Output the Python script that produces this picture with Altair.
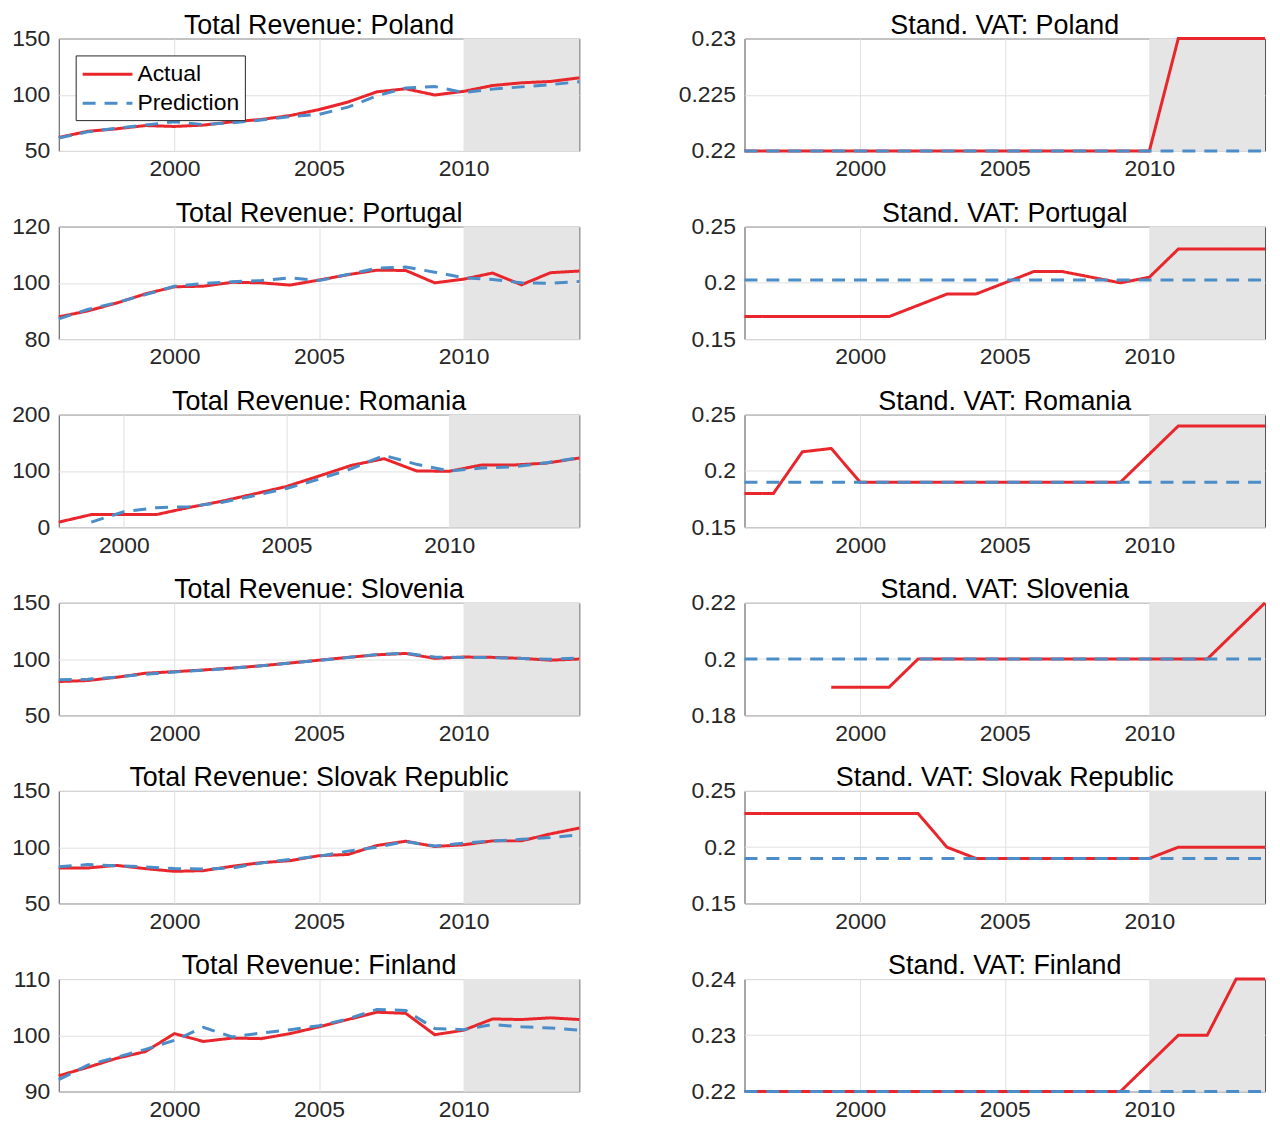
import altair as alt
import pandas as pd

FONT = "Liberation Sans"
RED = "#E8262B"
BLUE = "#4A8DC8"
SHADE_COLOR = "#E5E5E5"

PANEL_W = 523
PANEL_H = 113

YEARS = list(range(1996, 2015))
ROM_REV_YEARS_ACT = list(range(1998, 2015))
ROM_REV_YEARS_PRED = list(range(1999, 2015))
SVN_VAT_YEARS_ACT = list(range(1999, 2015))

SHADE_START = 2010
SHADE_END = 2014
X_TICKS = [2000, 2005, 2010]
SERIES = ["Actual", "Prediction"]

# ---- Total revenue ----
POL_REV_ACT = [62.0, 67.5, 69.7, 72.6, 71.8, 73.0, 75.9, 78.0, 81.5, 86.8, 93.5, 102.6, 105.3, 99.8, 103.0, 108.2, 110.6, 111.8, 115.0]
POL_REV_PRED = [61.5, 67.0, 70.2, 73.0, 76.0, 73.5, 75.0, 77.5, 80.5, 82.5, 89.0, 99.0, 106.0, 107.4, 102.0, 105.0, 107.0, 109.0, 111.5]

POR_REV_ACT = [87.9, 90.0, 92.8, 96.1, 98.6, 98.8, 100.2, 100.0, 99.2, 101.0, 102.9, 104.5, 104.4, 100.0, 101.3, 103.5, 99.3, 103.6, 104.2]
POR_REV_PRED = [87.2, 90.5, 93.0, 95.8, 98.8, 99.8, 100.4, 100.8, 101.8, 100.8, 103.0, 105.2, 105.6, 103.8, 101.8, 101.2, 100.0, 99.8, 100.5]

ROM_REV_ACT = [9.0, 22.4, 22.4, 22.4, 35.0, 46.0, 59.0, 72.4, 91.0, 110.0, 121.8, 100.0, 99.4, 110.6, 110.6, 114.0, 123.0]
ROM_REV_PRED = [9.0, 27.5, 34.7, 36.5, 44.0, 56.0, 68.8, 85.3, 104.0, 127.6, 111.8, 100.0, 105.3, 107.6, 114.7, 123.5]

SVN_REV_ACT = [80.0, 80.9, 83.8, 87.4, 88.8, 90.3, 92.0, 94.0, 96.5, 99.0, 101.5, 103.8, 105.0, 100.6, 101.8, 101.5, 100.6, 99.0, 100.0]
SVN_REV_PRED = [81.5, 82.0, 84.0, 86.5, 88.5, 90.0, 92.0, 94.0, 96.5, 98.8, 101.3, 104.0, 105.2, 101.8, 101.3, 101.3, 100.6, 99.8, 101.0]

SVK_REV_ACT = [81.5, 81.5, 83.8, 80.9, 78.5, 79.1, 83.0, 86.2, 88.0, 92.4, 93.5, 101.5, 105.3, 100.6, 102.1, 105.6, 105.6, 111.8, 117.0]
SVK_REV_PRED = [82.5, 84.5, 83.5, 82.5, 81.0, 80.5, 81.5, 86.0, 89.0, 92.0, 96.5, 100.0, 105.0, 101.0, 103.5, 105.5, 107.0, 108.5, 111.0]

FIN_REV_ACT = [92.8, 94.3, 95.9, 97.1, 100.3, 98.9, 99.5, 99.4, 100.3, 101.5, 102.8, 104.1, 103.9, 100.1, 100.9, 102.9, 102.8, 103.1, 102.8]
FIN_REV_PRED = [92.1, 94.7, 96.1, 97.5, 99.1, 101.4, 99.7, 100.4, 101.0, 101.7, 102.9, 104.6, 104.4, 101.2, 101.0, 101.9, 101.5, 101.3, 100.9]

# ---- Standard VAT ----
POL_VAT_ACT = [0.22, 0.22, 0.22, 0.22, 0.22, 0.22, 0.22, 0.22, 0.22, 0.22, 0.22, 0.22, 0.22, 0.22, 0.22, 0.23, 0.23, 0.23, 0.23]
POL_VAT_PRED = [0.22, 0.22, 0.22, 0.22, 0.22, 0.22, 0.22, 0.22, 0.22, 0.22, 0.22, 0.22, 0.22, 0.22, 0.22, 0.22, 0.22, 0.22, 0.22]

POR_VAT_ACT = [0.17, 0.17, 0.17, 0.17, 0.17, 0.17, 0.18, 0.19, 0.19, 0.20, 0.21, 0.21, 0.205, 0.20, 0.205, 0.23, 0.23, 0.23, 0.23]
POR_VAT_PRED = [0.2025, 0.2025, 0.2025, 0.2025, 0.2025, 0.2025, 0.2025, 0.2025, 0.2025, 0.2025, 0.2025, 0.2025, 0.2025, 0.2025, 0.2025, 0.2025, 0.2025, 0.2025, 0.2025]

ROM_VAT_ACT = [0.18, 0.18, 0.217, 0.22, 0.19, 0.19, 0.19, 0.19, 0.19, 0.19, 0.19, 0.19, 0.19, 0.19, 0.215, 0.24, 0.24, 0.24, 0.24]
ROM_VAT_PRED = [0.19, 0.19, 0.19, 0.19, 0.19, 0.19, 0.19, 0.19, 0.19, 0.19, 0.19, 0.19, 0.19, 0.19, 0.19, 0.19, 0.19, 0.19, 0.19]

SVN_VAT_ACT = [0.19, 0.19, 0.19, 0.20, 0.20, 0.20, 0.20, 0.20, 0.20, 0.20, 0.20, 0.20, 0.20, 0.20, 0.21, 0.22]
SVN_VAT_PRED = [0.20, 0.20, 0.20, 0.20, 0.20, 0.20, 0.20, 0.20, 0.20, 0.20, 0.20, 0.20, 0.20, 0.20, 0.20, 0.20, 0.20, 0.20, 0.20]

SVK_VAT_ACT = [0.23, 0.23, 0.23, 0.23, 0.23, 0.23, 0.23, 0.20, 0.19, 0.19, 0.19, 0.19, 0.19, 0.19, 0.19, 0.20, 0.20, 0.20, 0.20]
SVK_VAT_PRED = [0.19, 0.19, 0.19, 0.19, 0.19, 0.19, 0.19, 0.19, 0.19, 0.19, 0.19, 0.19, 0.19, 0.19, 0.19, 0.19, 0.19, 0.19, 0.19]

FIN_VAT_ACT = [0.22, 0.22, 0.22, 0.22, 0.22, 0.22, 0.22, 0.22, 0.22, 0.22, 0.22, 0.22, 0.22, 0.22, 0.225, 0.23, 0.23, 0.24, 0.24]
FIN_VAT_PRED = [0.22, 0.22, 0.22, 0.22, 0.22, 0.22, 0.22, 0.22, 0.22, 0.22, 0.22, 0.22, 0.22, 0.22, 0.22, 0.22, 0.22, 0.22, 0.22]


def panel(title, ya, va, yp, vp, xdom, ydom, yticks, legend=False):
    df = pd.DataFrame({
        "year": list(ya) + list(yp),
        "value": list(va) + list(vp),
        "series": [SERIES[0]] * len(ya) + [SERIES[1]] * len(yp),
    })
    shade_df = pd.DataFrame({"start": [SHADE_START], "end": [SHADE_END]})
    xscale = alt.Scale(domain=xdom, nice=False, zero=False)
    xaxis = alt.Axis(values=X_TICKS, format="d", title=None, labelFlush=False,
                     grid=True, ticks=False, domain=False, labelPadding=7)
    yaxis = alt.Axis(values=yticks, labelExpr="toString(datum.value)", title=None, grid=True,
                     ticks=False, domain=False, labelPadding=9)
    if legend:
        leg = alt.Legend(title=None, orient="top-left", offset=17,
                         strokeColor="#262626", fillColor="white", padding=5,
                         labelFont=FONT, labelFontSize=23, labelColor="#000000",
                         symbolType="M-2,0H2", symbolSize=625, symbolStrokeWidth=3,
                         symbolOffset=13, rowPadding=3, labelOffset=16, labelLimit=0,
                         cornerRadius=0)
    else:
        leg = None
    shade = alt.Chart(shade_df).mark_rect(color=SHADE_COLOR).encode(
        x=alt.X("start:Q", scale=xscale, axis=xaxis),
        x2="end:Q",
        y=alt.value(0),
        y2=alt.value(PANEL_H),
    )
    lines = alt.Chart(df).mark_line(strokeWidth=3).encode(
        x=alt.X("year:Q", scale=xscale, axis=xaxis),
        y=alt.Y("value:Q", scale=alt.Scale(domain=ydom, nice=False, zero=False), axis=yaxis),
        color=alt.Color("series:N", scale=alt.Scale(domain=SERIES, range=[RED, BLUE]), legend=leg),
        strokeDash=alt.StrokeDash("series:N", scale=alt.Scale(domain=SERIES, range=[[1, 0], [13, 9]]), legend=leg),
    )
    return alt.layer(shade, lines).properties(
        width=PANEL_W, height=PANEL_H, title=alt.Title(title, frame="group")
    )


FULL = [1996, 2014]
panels = [
    panel("Total Revenue: Poland", YEARS, POL_REV_ACT, YEARS, POL_REV_PRED, FULL, [50, 150], [50, 100, 150], legend=True),
    panel("Stand. VAT: Poland", YEARS, POL_VAT_ACT, YEARS, POL_VAT_PRED, FULL, [0.22, 0.23], [0.22, 0.225, 0.23]),
    panel("Total Revenue: Portugal", YEARS, POR_REV_ACT, YEARS, POR_REV_PRED, FULL, [80, 120], [80, 100, 120]),
    panel("Stand. VAT: Portugal", YEARS, POR_VAT_ACT, YEARS, POR_VAT_PRED, FULL, [0.15, 0.25], [0.15, 0.2, 0.25]),
    panel("Total Revenue: Romania", ROM_REV_YEARS_ACT, ROM_REV_ACT, ROM_REV_YEARS_PRED, ROM_REV_PRED, [1998, 2014], [0, 200], [0, 100, 200]),
    panel("Stand. VAT: Romania", YEARS, ROM_VAT_ACT, YEARS, ROM_VAT_PRED, FULL, [0.15, 0.25], [0.15, 0.2, 0.25]),
    panel("Total Revenue: Slovenia", YEARS, SVN_REV_ACT, YEARS, SVN_REV_PRED, FULL, [50, 150], [50, 100, 150]),
    panel("Stand. VAT: Slovenia", SVN_VAT_YEARS_ACT, SVN_VAT_ACT, YEARS, SVN_VAT_PRED, FULL, [0.18, 0.22], [0.18, 0.2, 0.22]),
    panel("Total Revenue: Slovak Republic", YEARS, SVK_REV_ACT, YEARS, SVK_REV_PRED, FULL, [50, 150], [50, 100, 150]),
    panel("Stand. VAT: Slovak Republic", YEARS, SVK_VAT_ACT, YEARS, SVK_VAT_PRED, FULL, [0.15, 0.25], [0.15, 0.2, 0.25]),
    panel("Total Revenue: Finland", YEARS, FIN_REV_ACT, YEARS, FIN_REV_PRED, FULL, [90, 110], [90, 100, 110]),
    panel("Stand. VAT: Finland", YEARS, FIN_VAT_ACT, YEARS, FIN_VAT_PRED, FULL, [0.22, 0.24], [0.22, 0.23, 0.24]),
]

chart = alt.concat(
    *panels,
    columns=2,
    spacing={"row": 76, "column": 166},
    bounds="flush",
    padding={"left": 3, "top": 0, "right": 0, "bottom": 0},
).resolve_scale(
    color="independent", strokeDash="independent"
).configure_view(
    stroke="#4D4D4D", strokeWidth=1
).configure_axis(
    labelFont=FONT, labelFontSize=23, labelColor="#262626",
    gridColor="#E0E0E0", gridWidth=1
).configure_title(
    font=FONT, fontSize=27, fontWeight="normal", color="#000000", offset=-12, anchor="middle"
)

chart.save("out.html", embed_options={"renderer": "svg", "actions": False})
